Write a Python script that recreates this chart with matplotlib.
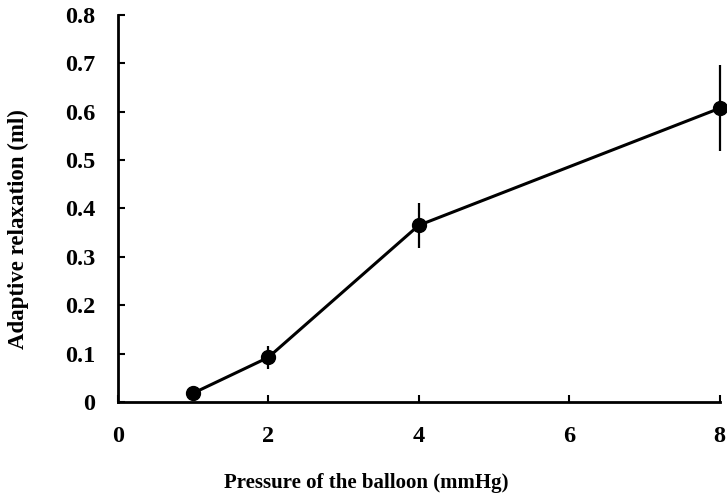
import matplotlib
matplotlib.use("Agg")
import matplotlib.pyplot as plt

pressure = [1, 2, 4, 8]
relaxation = [0.018, 0.092, 0.365, 0.607]
errors = [0.010, 0.023, 0.046, 0.089]
xticks = [0, 2, 4, 6, 8]
yticks = [0, 0.1, 0.2, 0.3, 0.4, 0.5, 0.6, 0.7, 0.8]
ytick_labels = ["0", "0.1", "0.2", "0.3", "0.4", "0.5", "0.6", "0.7", "0.8"]

plt.rcParams['font.family'] = ['Liberation Serif', 'DejaVu Serif']
plt.rcParams['font.weight'] = 'bold'

fig = plt.figure(figsize=(7.27, 4.95), dpi=100)
ax = fig.add_axes([0.162, 0.188, 0.828, 0.782])

ax.errorbar(pressure, relaxation, yerr=errors, color='black', lw=2.2,
            marker='o', ms=10, elinewidth=1.6, capsize=0, clip_on=False, zorder=3)

ax.set_xlim(0, 8)
ax.set_ylim(0, 0.8)
ax.set_xticks(xticks)
ax.set_xticklabels([str(t) for t in xticks])
ax.set_yticks(yticks)
ax.set_yticklabels(ytick_labels)
ax.spines['top'].set_visible(False)
ax.spines['right'].set_visible(False)
for s in ['left', 'bottom']:
    ax.spines[s].set_linewidth(2)
ax.tick_params(direction='in', length=5, width=1.5, labelsize=17.5)
ax.tick_params(axis='y', pad=16)
ax.tick_params(axis='x', pad=17)
for lab in ax.get_xticklabels() + ax.get_yticklabels():
    lab.set_fontweight('bold')

ax.set_xlabel("Pressure of the balloon (mmHg)", fontsize=15, fontweight='bold')
ax.set_ylabel("Adaptive relaxation (ml)", fontsize=16.5, fontweight='bold')
ax.xaxis.set_label_coords(0.412, -0.183)
ax.yaxis.set_label_coords(-0.148, 0.447)

fig.savefig("out.png", dpi=100)
